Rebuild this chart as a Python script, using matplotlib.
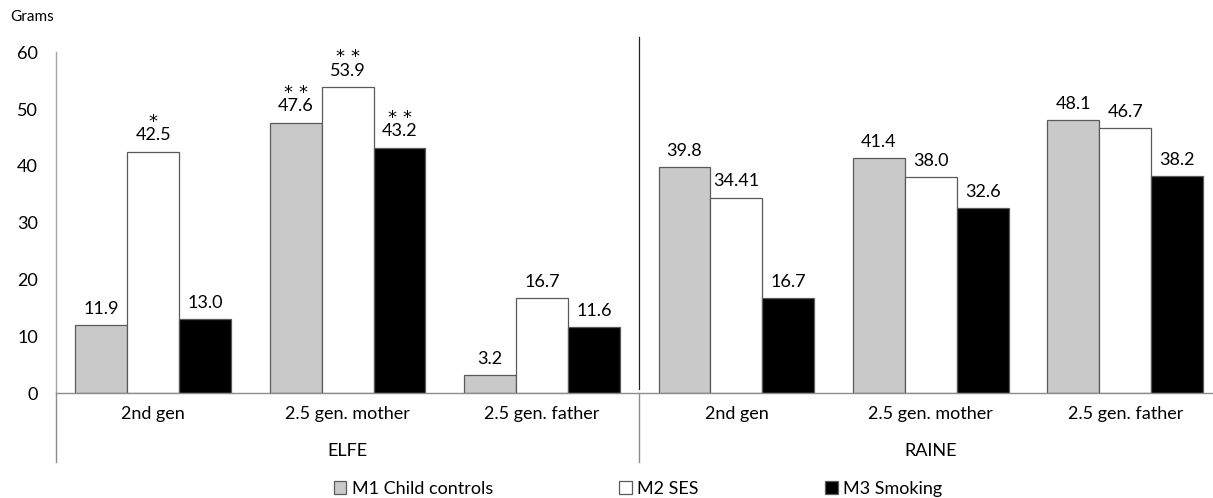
import matplotlib
matplotlib.use("Agg")
import matplotlib.pyplot as plt
import matplotlib.transforms as mtrans
import numpy as np

plt.rcParams['font.family'] = ['Lato', 'DejaVu Sans']
plt.rcParams['mathtext.fontset'] = 'dejavusans'

categories = ["2nd gen", "2.5 gen. mother", "2.5 gen. father",
              "2nd gen", "2.5 gen. mother", "2.5 gen. father"]
cohorts = ["ELFE", "RAINE"]
series = ["M1 Child controls", "M2 SES", "M3 Smoking"]
m1 = [11.9, 47.6, 3.2, 39.8, 41.4, 48.1]
m2 = [42.5, 53.9, 16.7, 34.41, 38.0, 46.7]
m3 = [13.0, 43.2, 11.6, 16.7, 32.6, 38.2]
stars_m1 = ["", "**", "", "", "", ""]
stars_m2 = ["*", "**", "", "", "", ""]
stars_m3 = ["", "**", "", "", "", ""]

colors = ["#c9c9c9", "#ffffff", "#000000"]
edge = "#5a5a5a"
fs = 13

def fmt(v):
    return f"{v:.1f}" if round(v, 1) == v else str(v)

def label(v, s):
    if not s:
        return fmt(v)
    star = r"\,".join(["*"] * len(s))
    return "$" + star + "$\n" + fmt(v)

fig = plt.figure(figsize=(12.13, 4.98), dpi=100)
ax = fig.add_axes([56 / 1213, 105 / 498, 6 * 194.4 / 1213, 340.6 / 498])

x = np.arange(len(categories))
w = 0.267
for i, (vals, stars) in enumerate(zip([m1, m2, m3], [stars_m1, stars_m2, stars_m3])):
    xs = x + (i - 1) * w
    ax.bar(xs, vals, width=w, color=colors[i], edgecolor=edge, linewidth=0.9,
           label=series[i], zorder=2)
    for xi, v, s in zip(xs, vals, stars):
        ax.annotate(label(v, s), (xi, v), xytext=(0, 6), textcoords="offset points",
                    ha="center", va="bottom", fontsize=fs, linespacing=0.95,
                    multialignment="center")

ax.set_xlim(-0.5, len(categories) - 0.5)
ax.set_ylim(0, 60)
ax.set_yticks(np.arange(0, 61, 10))
ax.tick_params(axis="y", length=0, pad=13, labelsize=fs)
ax.set_xticks(x)
ax.set_xticklabels(categories)
ax.tick_params(axis="x", length=0, pad=9, labelsize=fs)

for sp in ["top", "right"]:
    ax.spines[sp].set_visible(False)
ax.spines["left"].set_color("#a6a6a6")
ax.spines["bottom"].set_color("#8c8c8c")
ax.spines["left"].set_linewidth(1.0)
ax.spines["bottom"].set_linewidth(1.0)

trans = mtrans.blended_transform_factory(ax.transData, ax.transAxes)
# multi-level axis separators
for xb in [-0.5, 2.5]:
    ax.plot([xb, xb], [0, -0.203], transform=trans, color="#8c8c8c", lw=1.0,
            clip_on=False)
# divider between cohorts
ax.plot([2.5, 2.5], [0.012, 1.045], transform=trans, color="#222222", lw=0.9,
        clip_on=False)

for j, name in enumerate(cohorts):
    ax.text(j * 3 + 1, -0.170, name, transform=trans, ha="center", va="center",
            fontsize=fs)

fig.text(10 / 1213, 1 - 17 / 498, "Grams", ha="left", va="center", fontsize=fs - 2)

fig.legend(loc="center", bbox_to_anchor=(638 / 1213, 1 - 489 / 498), ncol=3,
           frameon=False, fontsize=fs, handlelength=0.7, handleheight=0.7,
           handletextpad=0.3, columnspacing=7.0, borderaxespad=0)

fig.savefig("out.png", dpi=100)
